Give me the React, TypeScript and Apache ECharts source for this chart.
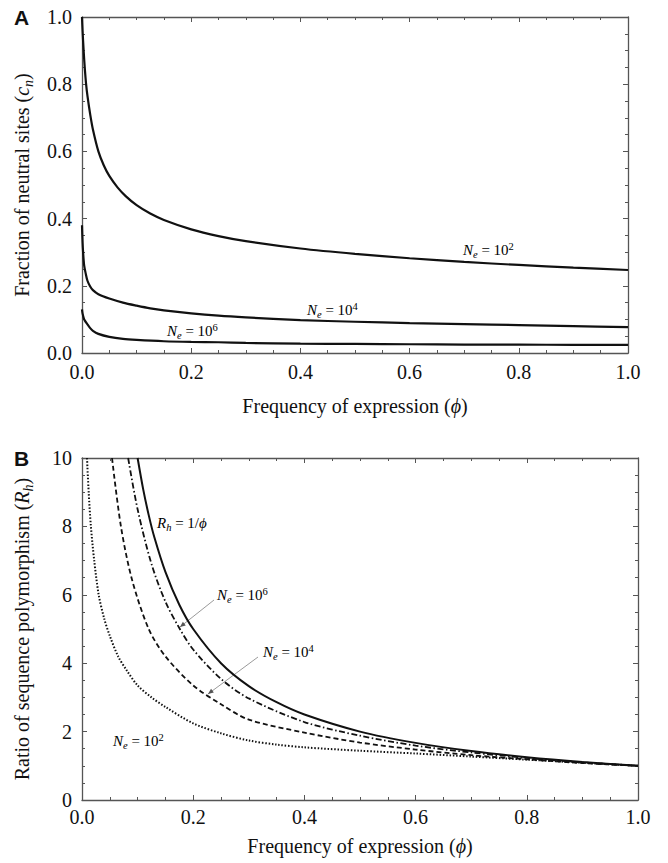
import React, { useEffect, useRef } from 'react';
import * as echarts from 'echarts';

// ---------- Panel A: fraction of neutral sites (c_n) vs frequency of expression ----------
const cnPhiNe2 = [0, 0.001, 0.003, 0.005, 0.0075, 0.01, 0.015, 0.02, 0.03, 0.04, 0.05, 0.065, 0.08, 0.1, 0.125, 0.15, 0.2, 0.25, 0.3, 0.4, 0.5, 0.6, 0.7, 0.8, 0.9, 1.0];
const cnNe2 = [1.0, 0.96, 0.9, 0.85, 0.8, 0.765, 0.71, 0.665, 0.6, 0.558, 0.527, 0.493, 0.467, 0.44, 0.415, 0.396, 0.368, 0.348, 0.333, 0.311, 0.295, 0.282, 0.271, 0.262, 0.254, 0.247];

const cnPhiNe4 = [0, 0.001, 0.002, 0.004, 0.007, 0.01, 0.015, 0.02, 0.03, 0.05, 0.075, 0.1, 0.125, 0.15, 0.2, 0.25, 0.3, 0.4, 0.5, 0.6, 0.7, 0.8, 0.9, 1.0];
const cnNe4 = [0.38, 0.33, 0.3, 0.26, 0.235, 0.215, 0.198, 0.187, 0.175, 0.162, 0.15, 0.141, 0.133, 0.127, 0.118, 0.111, 0.106, 0.098, 0.093, 0.089, 0.086, 0.083, 0.08, 0.077];

const cnPhiNe6 = [0, 0.001, 0.003, 0.005, 0.01, 0.015, 0.02, 0.03, 0.05, 0.075, 0.1, 0.15, 0.2, 0.25, 0.3, 0.4, 0.5, 0.6, 0.7, 0.8, 0.9, 1.0];
const cnNe6 = [0.13, 0.118, 0.105, 0.097, 0.085, 0.074, 0.066, 0.057, 0.048, 0.042, 0.039, 0.035, 0.033, 0.032, 0.03, 0.028, 0.027, 0.026, 0.025, 0.025, 0.024, 0.024];

// ---------- Panel B: ratio of sequence polymorphism (R_h) ----------
const rhPhiInf = [0.1, 0.11, 0.12, 0.13, 0.15, 0.175, 0.2, 0.25, 0.3, 0.35, 0.4, 0.5, 0.6, 0.7, 0.8, 0.9, 1.0];
const rhInf = [10, 9.09, 8.33, 7.69, 6.67, 5.71, 5.0, 4.0, 3.33, 2.86, 2.5, 2.0, 1.67, 1.43, 1.25, 1.11, 1.0];

const rhPhiNe6 = [0.083, 0.1, 0.125, 0.15, 0.176, 0.2, 0.25, 0.3, 0.4, 0.5, 0.6, 0.7, 0.8, 0.9, 1.0];
const rhNe6 = [10, 8.5, 6.9, 5.8, 5.0, 4.4, 3.54, 2.97, 2.28, 1.88, 1.59, 1.39, 1.23, 1.1, 1.0];

const rhPhiNe4 = [0.054, 0.07, 0.09, 0.12, 0.15, 0.2, 0.25, 0.3, 0.4, 0.5, 0.6, 0.7, 0.8, 0.9, 1.0];
const rhNe4 = [10, 8.0, 6.44, 5.0, 4.2, 3.35, 2.8, 2.35, 1.97, 1.68, 1.475, 1.31, 1.19, 1.08, 1.0];

const rhPhiNe2 = [0.009, 0.012, 0.016, 0.022, 0.03, 0.04, 0.05, 0.065, 0.08, 0.1, 0.125, 0.15, 0.2, 0.25, 0.3, 0.35, 0.4, 0.5, 0.6, 0.7, 0.8, 0.9, 1.0];
const rhNe2 = [10, 9.0, 8.0, 7.0, 6.0, 5.3, 4.8, 4.2, 3.8, 3.35, 3.0, 2.72, 2.24, 1.95, 1.74, 1.62, 1.54, 1.44, 1.36, 1.27, 1.18, 1.09, 1.0];

const zip = (xs: number[], ys: number[]) => xs.map((x, i) => [x, ys[i]]);

const SERIF = 'Liberation Serif';
const SANS = 'Liberation Sans';
const AXIS_COLOR = '#555';
const TEXT_COLOR = '#111';

const nameRich = {
  n: { fontSize: 20, fontFamily: SERIF, color: TEXT_COLOR, lineHeight: 27, verticalAlign: 'middle' },
  i: { fontSize: 20, fontFamily: SERIF, fontStyle: 'italic', color: TEXT_COLOR, lineHeight: 27, verticalAlign: 'middle' },
  s: { fontSize: 14, fontFamily: SERIF, fontStyle: 'italic', color: TEXT_COLOR, lineHeight: 27, verticalAlign: 'bottom' },
};

const annRich = {
  i: { fontSize: 15, fontFamily: SERIF, fontStyle: 'italic', color: TEXT_COLOR, lineHeight: 21, verticalAlign: 'middle' },
  n: { fontSize: 15, fontFamily: SERIF, color: TEXT_COLOR, lineHeight: 21, verticalAlign: 'middle' },
  sub: { fontSize: 10.5, fontFamily: SERIF, fontStyle: 'italic', color: TEXT_COLOR, lineHeight: 21, verticalAlign: 'bottom', padding: [0, 0, 1, 0] },
  sup: { fontSize: 10.5, fontFamily: SERIF, color: TEXT_COLOR, lineHeight: 21, verticalAlign: 'top', padding: [1, 0, 0, 0] },
};

function valueAxis(opts: any) {
  const { gridIndex, position, min, max, interval, showLabel, formatter, name, nameGap, isY, labelMargin } = opts;
  return {
    type: 'value',
    gridIndex,
    position,
    min,
    max,
    interval,
    axisLine: { show: true, onZero: false, lineStyle: { color: AXIS_COLOR, width: 1.3 } },
    axisTick: { show: true, inside: true, length: 5, lineStyle: { color: AXIS_COLOR, width: 1 } },
    minorTick: { show: true, splitNumber: 4, length: 3, lineStyle: { color: AXIS_COLOR, width: 1 } },
    splitLine: { show: false },
    minorSplitLine: { show: false },
    axisLabel: {
      show: !!showLabel,
      margin: labelMargin ?? 10,
      color: TEXT_COLOR,
      fontSize: 20,
      fontFamily: SERIF,
      formatter,
    },
    name: name || '',
    nameLocation: 'middle',
    nameGap: nameGap || 0,
    nameRotate: isY ? 90 : 0,
    nameTextStyle: { rich: nameRich, fontFamily: SERIF, fontSize: 20, color: TEXT_COLOR },
  };
}

function arrowHead(x1: number, y1: number, x2: number, y2: number, size: number) {
  const ang = Math.atan2(y2 - y1, x2 - x1);
  const a1 = ang + Math.PI - 0.4;
  const a2 = ang + Math.PI + 0.4;
  return [
    [x2, y2],
    [x2 + size * Math.cos(a1), y2 + size * Math.sin(a1)],
    [x2 + size * Math.cos(a2), y2 + size * Math.sin(a2)],
  ];
}

export default function App() {
  const ref = useRef<HTMLDivElement>(null);

  useEffect(() => {
    if (!ref.current) return;
    const chart = echarts.init(ref.current, undefined, { renderer: 'svg' });

    const fmt1 = (v: number) => v.toFixed(1);
    const fmt0 = (v: number) => String(Math.round(v));

    const lineBase = {
      type: 'line',
      showSymbol: false,
      symbol: 'none',
      smooth: 0.3,
      clip: true,
      silent: true,
    };

    const leader = (x1: number, y1: number, x2: number, y2: number) => [
      { type: 'line', shape: { x1, y1, x2, y2 }, style: { stroke: '#9a9a9a', lineWidth: 1 } },
      { type: 'polygon', shape: { points: arrowHead(x1, y1, x2, y2, 6) }, style: { fill: '#555' } },
    ];

    const annText = (x: number, y: number, text: string) => ({
      type: 'text',
      x,
      y,
      style: { text, rich: annRich, verticalAlign: 'middle', align: 'left', fontFamily: SERIF, fontSize: 15 },
    });

    chart.setOption({
      animation: false,
      backgroundColor: '#fff',
      textStyle: { fontFamily: SERIF },
      grid: [
        { left: 82, top: 17, width: 546, height: 336, containLabel: false },
        { left: 82, top: 458, width: 556, height: 342, containLabel: false },
      ],
      xAxis: [
        valueAxis({ gridIndex: 0, position: 'bottom', min: 0, max: 1, interval: 0.2, showLabel: true, formatter: fmt1, name: '{n|Frequency of expression (}{i|ϕ}{n|)}', nameGap: 39, labelMargin: 9 }),
        valueAxis({ gridIndex: 0, position: 'top', min: 0, max: 1, interval: 0.2 }),
        valueAxis({ gridIndex: 1, position: 'bottom', min: 0, max: 1, interval: 0.2, showLabel: true, formatter: fmt1, name: '{n|Frequency of expression (}{i|ϕ}{n|)}', nameGap: 32, labelMargin: 7 }),
        valueAxis({ gridIndex: 1, position: 'top', min: 0, max: 1, interval: 0.2 }),
      ],
      yAxis: [
        valueAxis({ gridIndex: 0, position: 'left', min: 0, max: 1, interval: 0.2, showLabel: true, formatter: fmt1, name: '{n|Fraction of neutral sites (}{i|c}{s|n}{n|)}', nameGap: 47, isY: true }),
        valueAxis({ gridIndex: 0, position: 'right', min: 0, max: 1, interval: 0.2 }),
        valueAxis({ gridIndex: 1, position: 'left', min: 0, max: 10, interval: 2, showLabel: true, formatter: fmt0, name: '{n|Ratio of sequence polymorphism (}{i|R}{s|h}{n|)}', nameGap: 47, isY: true }),
        valueAxis({ gridIndex: 1, position: 'right', min: 0, max: 10, interval: 2 }),
      ],
      series: [
        { ...lineBase, name: 'cn Ne=1e2', xAxisIndex: 0, yAxisIndex: 0, data: zip(cnPhiNe2, cnNe2), lineStyle: { color: '#111', width: 2.2 } },
        { ...lineBase, name: 'cn Ne=1e4', xAxisIndex: 0, yAxisIndex: 0, data: zip(cnPhiNe4, cnNe4), lineStyle: { color: '#111', width: 2.2 } },
        { ...lineBase, name: 'cn Ne=1e6', xAxisIndex: 0, yAxisIndex: 0, data: zip(cnPhiNe6, cnNe6), lineStyle: { color: '#111', width: 2.2 } },
        { ...lineBase, name: 'Rh = 1/phi', xAxisIndex: 2, yAxisIndex: 2, data: zip(rhPhiInf, rhInf), lineStyle: { color: '#111', width: 2 } },
        { ...lineBase, name: 'Rh Ne=1e6', xAxisIndex: 2, yAxisIndex: 2, data: zip(rhPhiNe6, rhNe6), lineStyle: { color: '#111', width: 1.8, type: [6, 2.5, 1.5, 2.5] } },
        { ...lineBase, name: 'Rh Ne=1e4', xAxisIndex: 2, yAxisIndex: 2, data: zip(rhPhiNe4, rhNe4), lineStyle: { color: '#111', width: 1.8, type: [5, 3] } },
        { ...lineBase, name: 'Rh Ne=1e2', xAxisIndex: 2, yAxisIndex: 2, data: zip(rhPhiNe2, rhNe2), lineStyle: { color: '#111', width: 2, type: [1.5, 1.8] } },
      ],
      graphic: [
        { type: 'text', x: 14, y: 17, style: { text: 'A', fontFamily: SANS, fontWeight: 'bold', fontSize: 21, fill: '#111', verticalAlign: 'middle', align: 'left' } },
        { type: 'text', x: 14, y: 458, style: { text: 'B', fontFamily: SANS, fontWeight: 'bold', fontSize: 21, fill: '#111', verticalAlign: 'middle', align: 'left' } },
        annText(463, 250, '{i|N}{sub|e}{n| = 10}{sup|2}'),
        annText(307, 310, '{i|N}{sub|e}{n| = 10}{sup|4}'),
        annText(167, 331, '{i|N}{sub|e}{n| = 10}{sup|6}'),
        annText(157, 523, '{i|R}{sub|h}{n| = 1/}{i|ϕ}'),
        annText(217, 595, '{i|N}{sub|e}{n| = 10}{sup|6}'),
        annText(263, 652, '{i|N}{sub|e}{n| = 10}{sup|4}'),
        annText(113, 741, '{i|N}{sub|e}{n| = 10}{sup|2}'),
        ...leader(214, 600, 180, 627),
        ...leader(258, 657, 208, 694),
      ],
    });

    return () => {
      chart.dispose();
    };
  }, []);

  return (
    <div
      ref={ref}
      style={{ position: 'fixed', left: 0, top: 0, width: 668, height: 863, background: '#fff' }}
    />
  );
}
